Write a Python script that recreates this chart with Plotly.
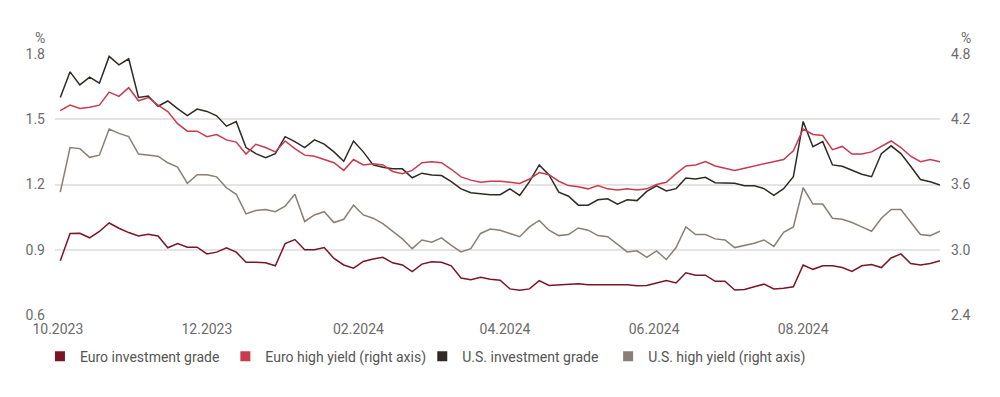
import pandas as pd
import plotly.graph_objects as go

# Observation dates (every 4 days, Oct 2023 - Sep 2024)
dates = pd.date_range("2023-10-02", periods=91, freq="4D")

euro_ig = [0.849, 0.975, 0.976, 0.955, 0.984, 1.023, 0.999, 0.979, 0.963, 0.971, 0.963, 0.909, 0.928, 0.912, 0.912, 0.881, 0.889, 0.909, 0.889, 0.842, 0.842, 0.84, 0.826,
           0.928, 0.947, 0.90, 0.90, 0.91, 0.86, 0.83, 0.815, 0.846, 0.857, 0.865, 0.84, 0.83, 0.80, 0.834, 0.845, 0.842, 0.826, 0.77, 0.762, 0.773, 0.764,
           0.76, 0.72, 0.714, 0.72, 0.758, 0.736, 0.739, 0.744, 0.744, 0.739, 0.739, 0.739, 0.742, 0.739, 0.734, 0.736, 0.747, 0.758, 0.747, 0.794, 0.783, 0.783, 0.755,
           0.755, 0.715, 0.717, 0.73, 0.742, 0.72, 0.723, 0.73, 0.83, 0.81, 0.826, 0.826, 0.818, 0.80, 0.826, 0.832, 0.818, 0.862, 0.881, 0.837, 0.83, 0.837, 0.849]

euro_hy = [4.28, 4.33, 4.30, 4.31, 4.33, 4.45, 4.41, 4.49, 4.37, 4.40, 4.33, 4.27, 4.16, 4.09, 4.09, 4.04, 4.06, 4.01, 3.99, 3.88, 3.97, 3.94, 3.90,
           4.00, 3.93, 3.87, 3.86, 3.83, 3.80, 3.73, 3.83, 3.78, 3.79, 3.78, 3.72, 3.70, 3.73, 3.80, 3.81, 3.80, 3.74, 3.67, 3.64, 3.62, 3.63,
           3.63, 3.62, 3.61, 3.65, 3.71, 3.69, 3.63, 3.59, 3.58, 3.56, 3.59, 3.56, 3.55, 3.56, 3.55, 3.56, 3.60, 3.62, 3.70, 3.77, 3.78, 3.81, 3.77,
           3.75, 3.73, 3.75, 3.77, 3.79, 3.81, 3.83, 3.91, 4.11, 4.06, 4.05, 3.92, 3.95, 3.88, 3.88, 3.90, 3.95, 4.00, 3.94, 3.86, 3.81, 3.83, 3.81]

us_ig = [1.60, 1.718, 1.658, 1.694, 1.666, 1.789, 1.75, 1.778, 1.60, 1.607, 1.56, 1.584, 1.549, 1.517, 1.547, 1.536, 1.516, 1.468, 1.489, 1.37, 1.342, 1.323, 1.342,
         1.42, 1.397, 1.37, 1.405, 1.386, 1.35, 1.307, 1.40, 1.35, 1.29, 1.279, 1.272, 1.272, 1.231, 1.252, 1.244, 1.241, 1.213, 1.18, 1.162, 1.157, 1.153,
         1.153, 1.18, 1.15, 1.213, 1.29, 1.244, 1.165, 1.146, 1.105, 1.105, 1.13, 1.134, 1.11, 1.13, 1.126, 1.168, 1.194, 1.17, 1.181, 1.23, 1.225, 1.233, 1.208,
         1.208, 1.206, 1.194, 1.194, 1.181, 1.15, 1.181, 1.236, 1.49, 1.374, 1.397, 1.29, 1.284, 1.265, 1.247, 1.236, 1.342, 1.378, 1.342, 1.284, 1.223, 1.213, 1.197]

us_hy = [3.53, 3.94, 3.93, 3.85, 3.87, 4.11, 4.07, 4.04, 3.88, 3.87, 3.86, 3.80, 3.76, 3.61, 3.69, 3.69, 3.67, 3.57, 3.51, 3.33, 3.36, 3.37, 3.35,
         3.40, 3.51, 3.26, 3.32, 3.35, 3.25, 3.28, 3.41, 3.32, 3.29, 3.24, 3.17, 3.10, 3.01, 3.09, 3.07, 3.11, 3.04, 2.98, 3.01, 3.15, 3.19,
         3.18, 3.15, 3.12, 3.21, 3.27, 3.18, 3.13, 3.14, 3.20, 3.18, 3.13, 3.12, 3.05, 2.98, 2.99, 2.93, 2.99, 2.91, 3.02, 3.21, 3.14, 3.14, 3.10,
         3.09, 3.02, 3.04, 3.06, 3.09, 3.03, 3.16, 3.21, 3.57, 3.42, 3.42, 3.29, 3.28, 3.25, 3.21, 3.17, 3.29, 3.37, 3.37, 3.26, 3.14, 3.13, 3.17]

names = ["Euro investment grade", "Euro high yield (right axis)",
         "U.S. investment grade", "U.S. high yield (right axis)"]
colors = ["#7a1624", "#c93a4f", "#2f2a25", "#8a7f74"]
series = [euro_ig, euro_hy, us_ig, us_hy]
axes = ["y", "y2", "y", "y2"]

left_ticks = [0.6, 0.9, 1.2, 1.5, 1.8]
right_ticks = [2.4, 3.0, 3.6, 4.2, 4.8]

FONT = "Roboto"
TXT = "#6b6b6b"

# one legend box per entry, so each swatch sits where the reference puts it
legend_ids = ["legend", "legend2", "legend3", "legend4"]
legend_x = [-0.0170, 0.1925, 0.4150, 0.6250]

fig = go.Figure()
for vals, c, ax in zip(series, colors, axes):
    fig.add_trace(go.Scatter(x=dates, y=vals, mode="lines", yaxis=ax,
                             line=dict(color=c, width=1.5), showlegend=False,
                             hoverinfo="skip"))
for n, c, lg in zip(names, colors, legend_ids):
    fig.add_trace(go.Scatter(x=[None], y=[None], mode="markers", name=n,
                             legend=lg,
                             marker=dict(symbol="square", size=10, color=c)))

legend_style = dict(orientation="h", xanchor="left", y=-0.16,
                    yanchor="middle", itemwidth=30,
                    font=dict(family=FONT, size=14, color="#555555"),
                    bgcolor="rgba(0,0,0,0)")

# The page body adds an 8px margin, so the figure is 8px smaller each way
fig.update_layout(
    width=992, height=389,
    margin=dict(l=47, r=60, t=46, b=81.5, pad=0, autoexpand=False),
    paper_bgcolor="white", plot_bgcolor="white",
    font=dict(family=FONT, size=14, color=TXT),
    xaxis=dict(range=["2023-09-29 20:00", "2024-09-26"], tickformat="%m.%Y",
               dtick="M2", tick0="2023-10-01", showgrid=False, zeroline=False,
               showline=False, ticks="", ticklabelstandoff=4,
               tickfont=dict(size=14, color=TXT)),
    yaxis=dict(range=[0.6, 1.8], tickvals=left_ticks, tickformat=".1f",
               showgrid=True, gridcolor="#e4e4e4", gridwidth=1.5,
               zeroline=False, showline=False, ticks="", ticklabelstandoff=9,
               tickfont=dict(size=14, color=TXT)),
    yaxis2=dict(range=[2.4, 4.8], tickvals=right_ticks, tickformat=".1f",
                overlaying="y", side="right", showgrid=False, zeroline=False,
                showline=False, ticks="", ticklabelstandoff=10,
                tickfont=dict(size=14, color=TXT)),
    showlegend=True,
    annotations=[
        dict(text="%", xref="paper", yref="paper", x=-0.017, y=1.063,
             showarrow=False, xanchor="center", yanchor="middle",
             font=dict(size=14, color=TXT)),
        dict(text="%", xref="paper", yref="paper", x=1.029, y=1.063,
             showarrow=False, xanchor="center", yanchor="middle",
             font=dict(size=14, color=TXT)),
    ],
)
for lg, lx in zip(legend_ids, legend_x):
    fig.update_layout({lg: dict(legend_style, x=lx)})

fig.write_html("out.html")
